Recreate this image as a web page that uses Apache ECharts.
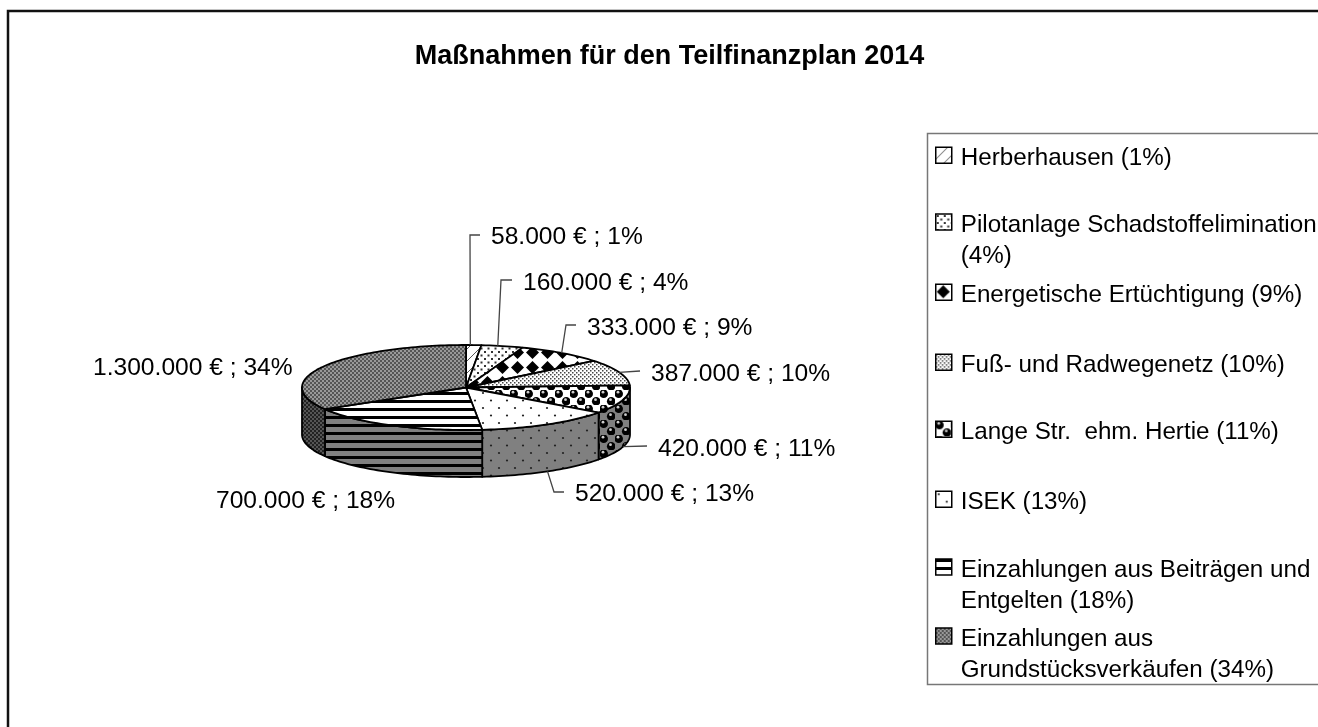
<!DOCTYPE html>
<html><head><meta charset="utf-8">
<script src="https://cdn.jsdelivr.net/npm/echarts@6/dist/echarts.min.js"></script>
<style>html,body{margin:0;padding:0;background:#fff}#c{width:1318px;height:727px}</style>
</head><body><div id="c"></div>
<script>
// ---- data ----
const titleText = 'Maßnahmen für den Teilfinanzplan 2014';
const categories = [
  'Herberhausen (1%)',
  'Pilotanlage Schadstoffelimination\n(4%)',
  'Energetische Ertüchtigung (9%)',
  'Fuß- und Radwegenetz (10%)',
  'Lange Str.  ehm. Hertie (11%)',
  'ISEK (13%)',
  'Einzahlungen aus Beiträgen und\nEntgelten (18%)',
  'Einzahlungen aus\nGrundstücksverkäufen (34%)'
];
const values = [58000, 160000, 333000, 387000, 420000, 520000, 700000, 1300000];
const percents = [1, 4, 9, 10, 11, 13, 18, 34];
const patternKinds = ['diag', 'dots', 'diamond', 'fine', 'balls', 'sparse', 'stripes', 'dither'];

// ---- layout ----
const CX = 466, CY = 387.5, RX = 164, RY = 42.5, DEPTH = 47;
const FONT = 'Liberation Sans, Arial, sans-serif';
const labelPos = [[491,237],[523,283],[587,328],[651,374],[658,449],[575,494],[216,501],[93,368]];
const leaderBends = [
  [[470,235],[480,235]], [[501,280],[512,280]], [[566,325],[576,325]],
  [[640,371]], [[647,446]], [[554,492],[564,492]], null, null
];
const leaderFraction = [0.28, 0.39, 0.5, 0.5, 0.5, 0.5, 0.5, 0.5];
const legendRows = [162, 229, 299, 369, 436, 506, 574, 643];

function tile(w, h, bg, draw) {
  const c = document.createElement('canvas');
  c.width = w; c.height = h;
  const g = c.getContext('2d');
  g.fillStyle = bg; g.fillRect(0, 0, w, h);
  g.fillStyle = '#000'; g.strokeStyle = '#000';
  draw(g);
  return { image: c, repeat: 'repeat' };
}
function dot(g, x, y, r) { g.beginPath(); g.arc(x, y, r, 0, 6.2832); g.fill(); }
const patternMakers = {
  diag: bg => tile(12, 12, bg, g => { g.lineWidth = 1; g.strokeStyle = '#555'; g.beginPath(); g.moveTo(0,12); g.lineTo(12,0); g.stroke(); }),
  dots: bg => tile(7, 7, bg, g => { g.fillStyle = '#333'; g.fillRect(1,1,2,2); g.fillRect(4.5,4.5,2,2); }),
  diamond: bg => tile(15, 15, bg, g => {
    g.beginPath(); g.moveTo(1,7.5); g.lineTo(7.5,1); g.lineTo(14,7.5); g.lineTo(7.5,14); g.closePath(); g.fill();
  }),
  fine: bg => tile(4, 4, bg, g => { g.fillStyle = '#444'; g.fillRect(0,0,1.5,1.5); g.fillRect(2,2,1.5,1.5); }),
  balls: bg => tile(15, 15, bg, g => {
    g.fillStyle = '#000'; dot(g,3.7,3.7,4.3); dot(g,11.2,11.2,4.3);
    g.fillStyle = '#ccc'; dot(g,3,2.2,1.4); dot(g,10.5,9.7,1.4);
  }),
  sparse: bg => tile(16, 15, bg, g => { g.fillStyle = '#222'; dot(g,3,3,1.1); dot(g,11,10.5,1.1); }),
  stripes: bg => tile(4, 8, bg, g => { g.fillRect(0,0,4,3); }),
  dither: bg => tile(4, 4, bg, g => { g.fillStyle = bg === '#fff' ? '#555' : '#222'; g.fillRect(0,0,2,2); g.fillRect(2,2,2,2); g.fillStyle = bg === '#fff' ? '#999' : '#555'; g.fillRect(2,0,2,2); g.fillRect(0,2,2,2); })
};
const topFill = patternKinds.map(k => patternMakers[k]('#fff'));
const sideFill = patternKinds.map(k => patternMakers[k]('#808080'));

const total = values.reduce((a, b) => a + b, 0);
let running = 0;
const spans = values.map(v => { const a = running / total * 360; running += v; return [a, running / total * 360]; });

function rim(a, dy) {
  const t = a * Math.PI / 180;
  return [CX + RX * Math.sin(t), CY - RY * Math.cos(t) + (dy || 0)];
}
function arc(a0, a1, dy) {
  const n = Math.max(2, Math.ceil(Math.abs(a1 - a0) / 1.5));
  const out = [];
  for (let k = 0; k <= n; k++) out.push(rim(a0 + (a1 - a0) * k / n, dy));
  return out;
}
function euro(v) { return String(v).replace(/\B(?=(\d{3})+$)/g, '.') + ' € ; '; }

function renderSlice(i) {
  return function () {
    const [a0, a1] = spans[i];
    const children = [];
    const s0 = Math.max(a0, 90), s1 = Math.min(a1, 270);
    if (s1 > s0) {
      children.push({
        type: 'polygon', z2: 1,
        shape: { points: arc(s0, s1, 0).concat(arc(s1, s0, DEPTH)) },
        style: { fill: sideFill[i], stroke: '#000', lineWidth: 1.8, lineJoin: 'round' }
      });
    }
    children.push({
      type: 'polygon', z2: 2,
      shape: { points: [[CX, CY]].concat(arc(a0, a1, 0)) },
      style: { fill: topFill[i], stroke: '#000', lineWidth: 1.8, lineJoin: 'round' }
    });
    if (leaderBends[i]) {
      const mid = a0 + (a1 - a0) * leaderFraction[i];
      const dy = mid > 90 && mid < 270 ? DEPTH : 0;
      children.push({
        type: 'polyline', z2: 3,
        shape: { points: [rim(mid, dy)].concat(leaderBends[i]) },
        style: { fill: null, stroke: '#444', lineWidth: 1.3 }
      });
    }
    children.push({
      type: 'text', z2: 4,
      style: { x: labelPos[i][0], y: labelPos[i][1], text: euro(values[i]) + percents[i] + '%',
        font: '24.6px ' + FONT, fill: '#000', verticalAlign: 'middle' }
    });
    return { type: 'group', children };
  };
}

const LEGEND_LINE = 31;
const chart = echarts.init(document.getElementById('c'), null, { renderer: 'canvas' });
chart.setOption({
  animation: false,
  backgroundColor: '#fff',
  title: {
    text: titleText, left: 664.5, top: 38, textAlign: 'center',
    textStyle: { fontFamily: FONT, fontWeight: 'bold', fontSize: 27, color: '#000' }
  },
  tooltip: { show: false },
  graphic: [
    { type: 'polyline', silent: true, shape: { points: [[8,730],[8,11],[1322,11]] }, style: { fill: null, stroke: '#111', lineWidth: 2.5 } },
    { type: 'rect', silent: true, shape: { x: 927.5, y: 133.5, width: 400, height: 551 }, style: { fill: '#fff', stroke: '#777', lineWidth: 1.5 }, z: -1 }
  ],
  legend: categories.map((name, i) => {
    const twoLine = name.indexOf('\n') >= 0;
    return {
      data: [{ name, icon: 'rect', itemStyle: { color: topFill[i], borderColor: '#000', borderWidth: 1.5 } }],
      left: 935, top: legendRows[i] - (twoLine ? LEGEND_LINE * 1.5 : LEGEND_LINE / 2),
      padding: 0, itemWidth: 16, itemHeight: 16, selectedMode: false, orient: 'vertical',
      formatter: n => {
        const lines = n.split('\n');
        if (lines.length > 1) lines.unshift('\u00a0');
        return lines.map(l => '{t|' + l + '}').join('\n');
      },
      textStyle: {
        padding: [0, 0, 0, 4],
        rich: { t: { fontFamily: FONT, fontSize: 24.2, color: '#000', lineHeight: LEGEND_LINE, verticalAlign: 'bottom' } }
      }
    };
  }),
  series: categories.map((name, i) => ({
    type: 'custom', name, coordinateSystem: 'none', silent: true,
    data: [[values[i]]],
    itemStyle: { color: topFill[i] },
    renderItem: renderSlice(i)
  }))
});
</script></body></html>
